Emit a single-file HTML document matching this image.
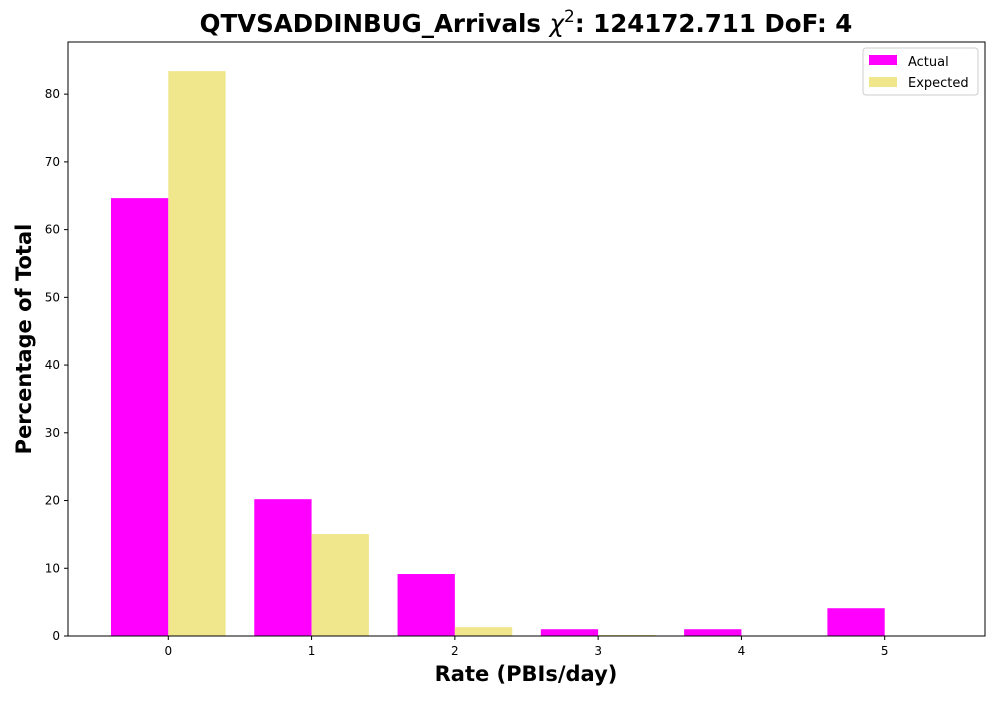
<!DOCTYPE html>
<html><head><meta charset="utf-8"><style>
body{margin:0;background:#fff;font-family:"Liberation Sans","DejaVu Sans",sans-serif;}
svg text{font-family:"DejaVu Sans","Liberation Sans",sans-serif;}
</style></head><body>
<svg id="chart" width="1000" height="700" xmlns="http://www.w3.org/2000/svg">
<text x="526" y="32" text-anchor="middle" font-size="24.5" font-weight="bold">QTVSADDINBUG_Arrivals <tspan font-style="italic" font-weight="normal">χ</tspan><tspan dy="-10" font-size="17" font-weight="normal">2</tspan><tspan dy="10">: 124172.711 DoF: 4</tspan></text>
<g id="plot"></g>
<text x="526" y="681" text-anchor="middle" font-size="21" font-weight="bold">Rate (PBIs/day)</text>
<text transform="translate(31,339) rotate(-90)" text-anchor="middle" font-size="21" font-weight="bold">Percentage of Total</text>
<g>
<rect x="863" y="48" width="115" height="47" fill="#fff" stroke="#ccc" rx="3"/>
<rect x="869" y="55" width="28" height="10" fill="#ff00ff"/>
<text x="908" y="66" font-size="13">Actual</text>
<rect x="869" y="77" width="28" height="10" fill="#f0e68c"/>
<text x="908" y="87" font-size="13">Expected</text>
</g>
</svg>
<script>
const categories=[0,1,2,3,4,5];
const actualValues=[64.65,20.2,9.15,1.0,1.0,4.1];
const expectedValues=[83.4,15.05,1.3,0.15,0.02,0.0];
const yTicks=[0,10,20,30,40,50,60,70,80];
const L=68,R=985,T=42,B=636,xMin=-0.7,xMax=5.7,yMin=0,yMax=87.7;
const xs=v=>L+(v-xMin)/(xMax-xMin)*(R-L);
const ys=v=>B-(v-yMin)/(yMax-yMin)*(B-T);
const NS="http://www.w3.org/2000/svg";
const g=document.getElementById('plot');
function mk(t,a){const e=document.createElementNS(NS,t);for(const k in a)e.setAttribute(k,a[k]);g.appendChild(e);return e;}
const bw=0.4;
categories.forEach((c,i)=>{
 let a=mk('rect',{x:xs(c-bw),y:ys(actualValues[i]),width:xs(c)-xs(c-bw),height:ys(0)-ys(actualValues[i]),fill:'#ff00ff'});
 
 
 let b=mk('rect',{x:xs(c),y:ys(expectedValues[i]),width:xs(c+bw)-xs(c),height:ys(0)-ys(expectedValues[i]),fill:'#f0e68c'});
 
 
 let tk=mk('line',{x1:xs(c),x2:xs(c),y1:B,y2:B+4,stroke:'#000'});
 
 
 let tl=mk('text',{x:xs(c),y:B+19,'text-anchor':'middle','font-size':12});
 tl.textContent=c;
 
 
});
yTicks.forEach(v=>{
 let tk=mk('line',{x1:L-4,x2:L,y1:ys(v),y2:ys(v),stroke:'#000'});
 
 
 let tl=mk('text',{x:L-8,y:ys(v)+4,'text-anchor':'end','font-size':12});
 tl.textContent=v;
 
 
});
let fr=mk('rect',{x:L,y:T,width:R-L,height:B-T,fill:'none',stroke:'#000','stroke-width':1});


</script>
</body></html>
